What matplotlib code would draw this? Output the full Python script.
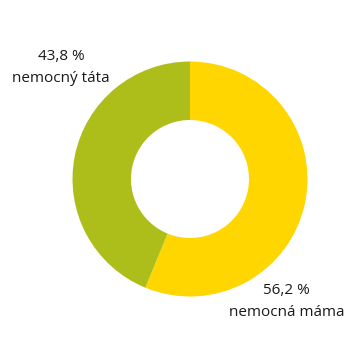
import matplotlib
matplotlib.use("Agg")
import matplotlib.pyplot as plt

# data
labels = ["nemocná máma", "nemocný táta"]
values = [56.2, 43.8]
colors = ["#FFD600", "#ADBE1B"]

fig = plt.figure(figsize=(3.54, 3.48), dpi=100)
ax = fig.add_axes([0, 0, 1, 1])

ax.pie(values, colors=colors, startangle=90, counterclock=False,
       center=(190, 169), radius=117.5,
       wedgeprops=dict(width=58.5, linewidth=0))

# pie() resets the limits, so set them afterwards
ax.set_xlim(0, 354)
ax.set_ylim(0, 348)
ax.set_aspect("equal")
ax.axis("off")

# labels (x centre, baseline of first line)
pos = [(286.5, 54), (61, 288)]
for (x, y), lab, v in zip(pos, labels, values):
    pct = f"{v:.1f}".replace(".", ",") + " %"
    ax.text(x, y, pct, ha="center", va="baseline", fontsize=11,
            family="Open Sans", color="#1a1a1a")
    ax.text(x, y - 21.7, lab, ha="center", va="baseline", fontsize=11,
            family="Open Sans", color="#1a1a1a")

fig.savefig("out.png", dpi=100)
